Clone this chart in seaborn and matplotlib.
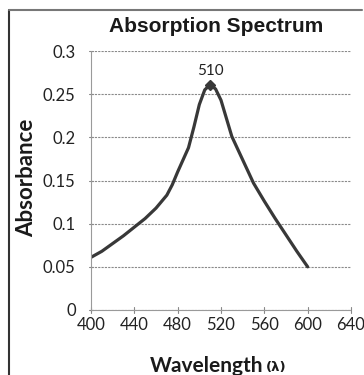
import matplotlib
matplotlib.use("Agg")
import matplotlib.pyplot as plt
from matplotlib.lines import Line2D
import seaborn as sns
import pandas as pd

# Data
wavelength = [400, 410, 420, 430, 440, 450, 460, 470, 475, 480, 490, 495, 500, 505, 510,
              515, 520, 525, 530, 540, 550, 560, 570, 580, 590, 600]
absorbance = [0.061, 0.068, 0.077, 0.086, 0.096, 0.106, 0.118, 0.133, 0.145, 0.160, 0.188, 0.212,
              0.238, 0.255, 0.261, 0.256, 0.243, 0.222, 0.201, 0.174, 0.147, 0.126, 0.106,
              0.087, 0.068, 0.050]
peak_wavelength = 510
peak_absorbance = 0.261
x_ticks = [400, 440, 480, 520, 560, 600, 640]
y_ticks = [0, 0.05, 0.1, 0.15, 0.2, 0.25, 0.3]
y_tick_labels = ["0", "0.05", "0.1", "0.15", "0.2", "0.25", "0.3"]

sns.set_style("white")
plt.rcParams["font.family"] = ["Lato", "DejaVu Sans"]

W, H = 364, 375
fig = plt.figure(figsize=(W / 100, H / 100), dpi=100)
ax = fig.add_axes([91 / W, 1 - 310 / H, (351 - 91) / W, (310 - 51) / H])

df = pd.DataFrame({"Wavelength": wavelength, "Absorbance": absorbance})
sns.lineplot(data=df, x="Wavelength", y="Absorbance", ax=ax, color="#383838",
             linewidth=2.3, legend=False)
ax.plot([peak_wavelength], [peak_absorbance], marker="D", markersize=5,
        color="#383838", linestyle="none")
ax.annotate(str(peak_wavelength), (peak_wavelength, peak_absorbance),
            xytext=(0, 5), textcoords="offset points", ha="center", va="bottom",
            fontsize=11, color="#222222")

ax.set_xlim(400, 640)
ax.set_ylim(0, 0.3)
ax.set_xticks(x_ticks)
ax.set_yticks(y_ticks)
ax.set_yticklabels(y_tick_labels)
ax.tick_params(axis="both", labelsize=12, colors="#222222", length=0)
ax.tick_params(axis="y", pad=11)
ax.tick_params(axis="x", pad=5)

ax.grid(True, axis="y", color="#8a8a8a", linewidth=0.8, linestyle=(0, (2, 1)))
ax.grid(False, axis="x")
for s in ["top", "right"]:
    ax.spines[s].set_visible(False)
for s in ["left", "bottom"]:
    ax.spines[s].set_color("#9a9a9a")
    ax.spines[s].set_linewidth(0.8)
    ax.spines[s].set_linestyle((0, (2, 1)))

# small tick marks crossing the axes
for t in x_ticks:
    ax.plot([t, t], [-0.003, 0.003], color="#8a8a8a", lw=0.8, clip_on=False)
for t in y_ticks:
    ax.plot([398.5, 401.5], [t, t], color="#8a8a8a", lw=0.8, clip_on=False)

ax.set_xlabel("")
ax.set_ylabel("")

fig.text(216 / W, 1 - 26 / H, "Absorption Spectrum", ha="center", va="center",
         fontsize=15, fontweight="bold", family=["Liberation Sans", "DejaVu Sans"],
         color="#1a1a1a")
fig.text(27 / W, 1 - 178 / H, "Absorbance", ha="center", va="center", rotation=90,
         fontsize=16, fontweight="bold", color="#1a1a1a")
fig.text(263 / W, 1 - 366 / H, "Wavelength", ha="right", va="center",
         fontsize=15, fontweight="bold", color="#1a1a1a")
fig.text(266 / W, 1 - 368 / H, "(λ)", ha="left", va="center",
         fontsize=9.5, fontweight="bold", family=["DejaVu Sans"], color="#1a1a1a")

# figure frame (left and top edges visible)
fig.add_artist(Line2D([9 / W, 9 / W], [0, 1 - 10 / H], color="#333333", lw=1.5,
                      transform=fig.transFigure))
fig.add_artist(Line2D([9 / W, 362 / W], [1 - 10 / H, 1 - 10 / H], color="#777777",
                      lw=1.5, transform=fig.transFigure))

fig.savefig("out.png", dpi=100)
